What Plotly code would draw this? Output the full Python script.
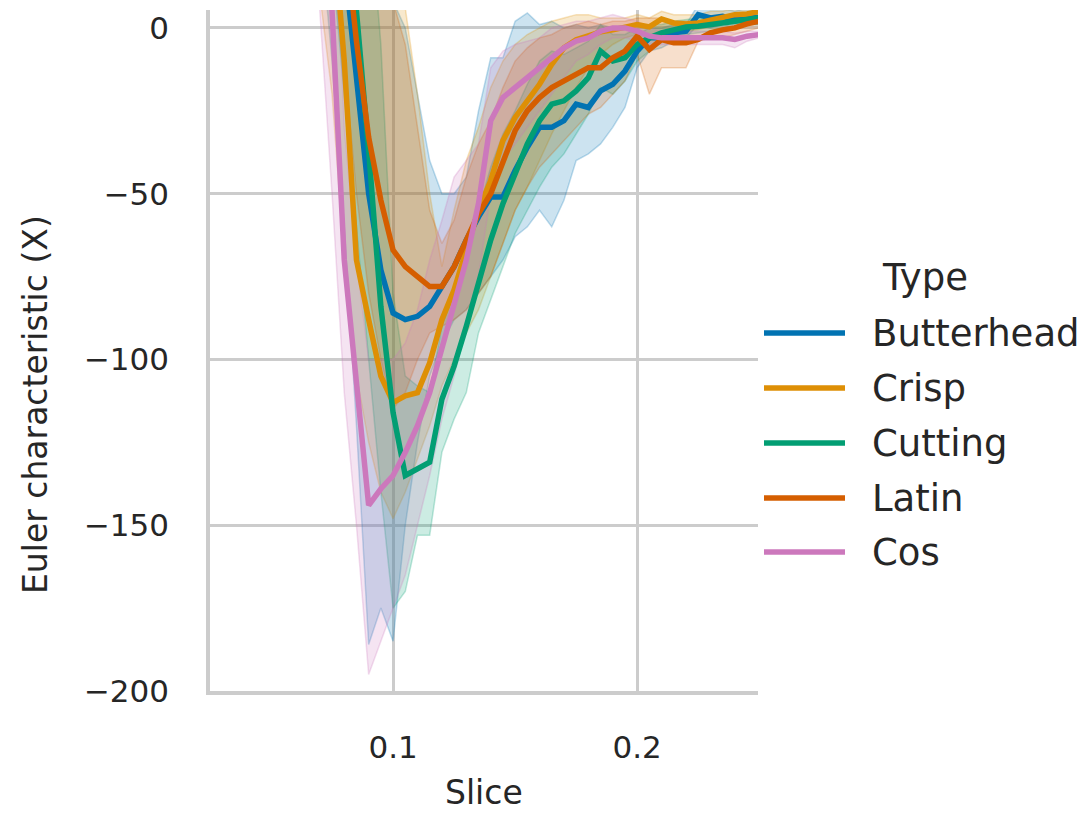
import plotly.graph_objects as go

# Slice positions (shared by every lettuce type)
SLICE = [0.065, 0.07, 0.075, 0.08, 0.085, 0.09, 0.095, 0.1, 0.105, 0.11,
         0.115, 0.12, 0.125, 0.13, 0.135, 0.14, 0.145, 0.15, 0.155, 0.16,
         0.165, 0.17, 0.175, 0.18, 0.185, 0.19, 0.195, 0.2, 0.205, 0.21,
         0.215, 0.22, 0.225, 0.23, 0.235, 0.24, 0.245, 0.25]

TYPES = ["Butterhead", "Crisp", "Cutting", "Latin", "Cos"]
COLORS = ["#0173b2", "#de8f05", "#029e73", "#d55e00", "#cc78bc"]

# Mean Euler characteristic per slice
butterhead_mean = [120, 90, 55, 20, -15, -50, -73, -86, -88, -87, -84, -78, -72, -64, -57, -51, -51, -43, -36, -30,
                   -30, -28, -23, -24, -19, -17, -13, -7, -3, -3, -1.5, -1, 4, 3, 3.5, 2.5, 3.5, 3]
crisp_mean = [90, 65, 35, -10, -70, -88, -105, -113, -111, -110, -101, -88, -79, -67, -55, -46, -34, -27, -22, -17,
              -11, -6, -3.6, -2.4, -1.2, -0.6, 0.3, 1, 0.3, 2.7, 1.5, 1.2, 1.5, 2.4, 3, 4, 4.2, 5]
cutting_mean = [150, 110, 75, 40, 5, -37, -84, -116, -135, -133, -131, -112, -102, -90, -77, -64, -53, -44, -35, -28,
                -23, -22, -19, -15, -7, -10, -9, -5, -3, -1.5, -0.6, 0.3, 0.5, 1, 1.5, 2, 2.5, 3]
latin_mean = [140, 100, 65, 30, -4, -33, -52, -67, -72, -75, -78, -78, -72, -64, -56, -50, -40, -31, -25, -21,
              -18, -16, -14, -12, -12, -9, -7, -2.5, -6.5, -3.5, -4.5, -4.5, -3.5, -1.5, -0.6, 0, 1.2, 2]
cos_mean = [120, 65, 5, -70, -108, -144, -139, -135, -128, -120, -110, -97, -84, -70, -53, -28, -21, -18, -15, -12,
            -9, -6, -4, -3, -1, 0, 0, -1, -2.5, -3, -3, -3, -3, -3, -3, -3.5, -2.5, -2]

# 95% confidence band, lower edge
butterhead_lo = [60, 30, -10, -60, -120, -186, -175, -185, -150, -125, -105, -95, -88, -85, -80, -75, -70, -63, -60, -55,
                 -60, -52, -40, -38, -35, -30, -24, -12, -7, -6, -4, -3, 1, 0, 1, 0, 1, 1]
crisp_lo = [40, 10, -20, -70, -105, -125, -140, -148, -140, -130, -120, -108, -100, -92, -85, -75, -65, -55, -48, -40,
            -32, -25, -18, -12, -8, -5, -3, -2, -3, -1, -1, -1, -0.5, 0.5, 1, 2, 2.5, 3]
cutting_lo = [100, 60, 20, -20, -60, -100, -140, -175, -170, -153, -153, -128, -118, -110, -92, -82, -72, -62, -55, -48,
              -42, -38, -32, -26, -18, -20, -16, -10, -7, -4, -3, -2, -1.5, -1, 0, 0, 1, 1]
latin_lo = [80, 50, 20, -10, -50, -80, -100, -115, -110, -100, -92, -90, -88, -85, -80, -75, -65, -55, -48, -42,
            -38, -34, -30, -26, -24, -20, -16, -8, -20, -12, -12, -12, -4, -3, -3, -2, -1, 0]
cos_lo = [60, 10, -50, -110, -150, -195, -185, -175, -165, -150, -135, -118, -105, -90, -75, -50, -40, -35, -30, -25,
          -20, -15, -10, -8, -5, -3, -3, -4, -5, -5, -5, -5, -5, -5, -5, -6, -4, -3]

# 95% confidence band, upper edge
butterhead_hi = [180, 150, 120, 90, 60, 30, 15, 8, 0, -20, -40, -50, -50, -45, -25, -9, -9, 2, 4.5, 1,
                 2, 0, 1, 0, 1, 0, 0, -2, 0, 0, 1, 1, 7, 6, 6, 5, 6, 5]
crisp_hi = [150, 120, 90, 60, 40, 30, 20, 12, 6, -20, -50, -72, -55, -40, -30, -18, -10, -5, -2, 0,
            2, 3, 4, 4, 3, 3, 3, 4, 3, 5, 4, 4, 4, 5, 5, 6, 6, 7]
cutting_hi = [200, 160, 130, 100, 60, 40, -5, -80, -105, -108, -110, -90, -80, -68, -55, -42, -32, -25, -17, -10,
              -7, -8, -6, -4, 1, -2, -2, 0, 1, 1, 2, 2.5, 3, 3, 3.5, 4, 4.5, 5]
latin_hi = [200, 170, 140, 100, 60, 30, 15, 8, -5, -30, -55, -65, -58, -45, -35, -28, -18, -10, -6, -3,
            -2, 0, 1, 2, 1, 2, 2, 3, 3, 3, 2, 2, 2, 3, 3, 3, 3.5, 4]
cos_hi = [180, 120, 60, -30, -70, -100, -100, -100, -95, -85, -70, -58, -45, -40, -35, -12, -7, -5, -4, -3,
          0, 1, 2, 2, 3, 4, 3, 2, 0, -1, -1, -1, -1, -1, -1, -1.5, -1, -1]

MEANS = [butterhead_mean, crisp_mean, cutting_mean, latin_mean, cos_mean]
LOWS = [butterhead_lo, crisp_lo, cutting_lo, latin_lo, cos_lo]
HIGHS = [butterhead_hi, crisp_hi, cutting_hi, latin_hi, cos_hi]

Y_TICKS = [0, -50, -100, -150, -200]
Y_TICK_TEXT = ["0", "\u221250", "\u2212100", "\u2212150", "\u2212200"]
X_TICKS = [0.1, 0.2]
X_TICK_TEXT = ["0.1", "0.2"]

FONT = "DejaVu Sans"
TEXT_COLOR = "#262626"
GRID = "#cccccc"
LINE_W = 5.5


def rgba(hex_color, alpha):
    h = hex_color.lstrip("#")
    r, g, b = int(h[0:2], 16), int(h[2:4], 16), int(h[4:6], 16)
    return f"rgba({r},{g},{b},{alpha})"


fig = go.Figure()

# Confidence bands first so every line sits above them
for name, color, lo, hi in zip(TYPES, COLORS, LOWS, HIGHS):
    fig.add_trace(go.Scatter(
        x=SLICE + SLICE[::-1],
        y=hi + lo[::-1],
        fill="toself",
        fillcolor=rgba(color, 0.2),
        line=dict(color=rgba(color, 0.25), width=1.5),
        hoverinfo="skip",
        showlegend=False,
    ))

for name, color, mean in zip(TYPES, COLORS, MEANS):
    fig.add_trace(go.Scatter(
        x=SLICE, y=mean, mode="lines", name=name,
        line=dict(color=color, width=LINE_W),
        showlegend=False,
    ))

# Plot area geometry in pixels
W, H = 1089, 813
L, R, T, B = 210, 331, 10, 122
pw, ph = W - L - R, H - T - B


def px_x(px):
    return (px - L) / pw


def px_y(py):
    return (H - B - py) / ph


shapes = []
annotations = []

# Legend drawn beside the axes
legend_rows = [333, 388, 443, 498, 552]
for name, color, row in zip(TYPES, COLORS, legend_rows):
    shapes.append(dict(type="line", xref="paper", yref="paper",
                       x0=px_x(764), x1=px_x(845), y0=px_y(row), y1=px_y(row),
                       line=dict(color=color, width=LINE_W)))
    annotations.append(dict(xref="paper", yref="paper", x=px_x(870), y=px_y(row),
                            text=name, showarrow=False, xanchor="left", yanchor="middle",
                            font=dict(family=FONT, size=37, color=TEXT_COLOR)))
annotations.append(dict(xref="paper", yref="paper", x=px_x(925), y=px_y(277),
                        text="Type", showarrow=False, xanchor="center", yanchor="middle",
                        font=dict(family=FONT, size=37, color=TEXT_COLOR)))

# Axis titles
annotations.append(dict(xref="paper", yref="paper", x=px_x(484), y=px_y(792),
                        text="Slice", showarrow=False, xanchor="center", yanchor="middle",
                        font=dict(family=FONT, size=33, color=TEXT_COLOR)))
annotations.append(dict(xref="paper", yref="paper", x=px_x(35), y=px_y(404),
                        text="Euler characteristic (X)", showarrow=False, textangle=-90,
                        xanchor="center", yanchor="middle",
                        font=dict(family=FONT, size=33, color=TEXT_COLOR)))

fig.update_layout(
    width=W, height=H,
    margin=dict(l=L, r=R, t=T, b=B, autoexpand=False),
    paper_bgcolor="white", plot_bgcolor="white",
    showlegend=False,
    shapes=shapes,
    annotations=annotations,
    font=dict(family=FONT, color=TEXT_COLOR),
)

fig.update_xaxes(
    range=[0.025, 0.2495],
    tickvals=X_TICKS, ticktext=X_TICK_TEXT,
    tickfont=dict(family=FONT, size=31, color=TEXT_COLOR),
    ticks="", ticklabelstandoff=26,
    showgrid=True, gridcolor=GRID, gridwidth=3,
    showline=True, linecolor=GRID, linewidth=3.5,
    zeroline=False,
)
fig.update_yaxes(
    range=[-200, 5.4],
    tickvals=Y_TICKS, ticktext=Y_TICK_TEXT,
    tickfont=dict(family=FONT, size=31, color=TEXT_COLOR),
    ticks="", ticklabelstandoff=31,
    showgrid=True, gridcolor=GRID, gridwidth=3,
    showline=True, linecolor=GRID, linewidth=3.5,
    zeroline=False,
)

fig.write_html("out.html")
